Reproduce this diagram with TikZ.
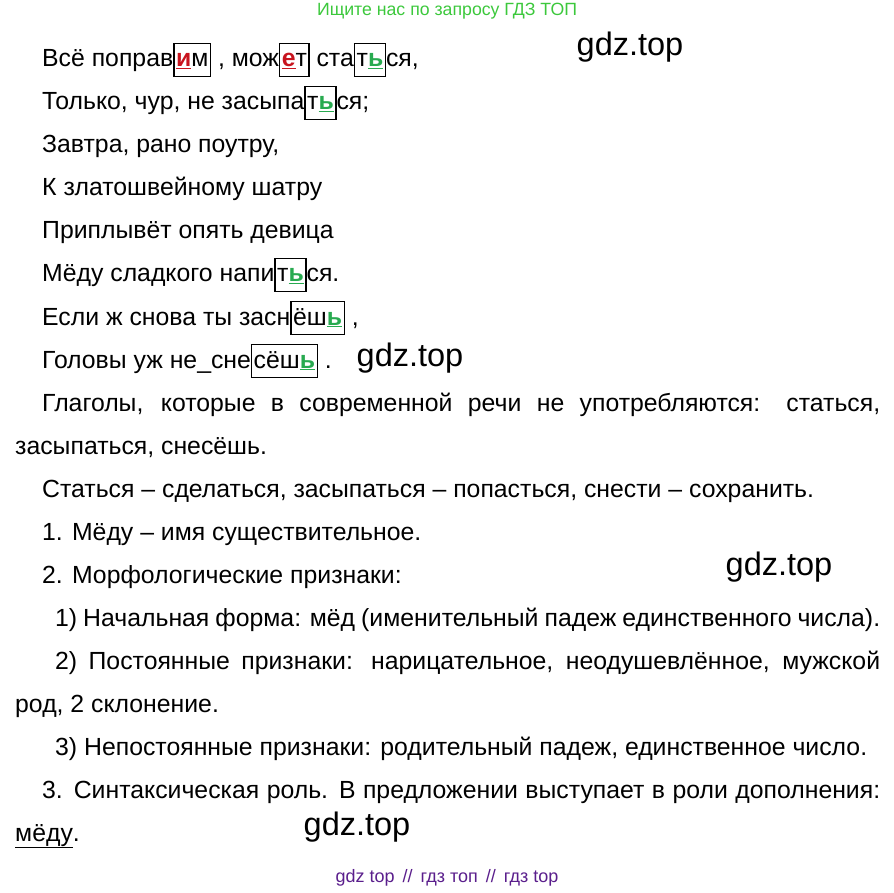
\documentclass[tikz,border=0pt]{standalone}
\usepackage{fontspec}
\setmainfont{Liberation Sans}
\usepackage{xcolor}
\definecolor{markred}{RGB}{200,20,30}
\definecolor{markgreen}{RGB}{40,170,80}
\definecolor{wmgreen}{RGB}{60,200,60}
\definecolor{wmpurple}{RGB}{90,30,140}
\newcommand{\bx}[1]{{\setlength\fboxsep{0pt}\setlength\fboxrule{1.3pt}\fbox{\rule[-9pt]{0pt}{32pt}\hspace{1.5pt}#1\hspace{1.5pt}}}}
\newcommand{\rl}[1]{\textcolor{markred}{\textbf{\underline{#1}}}}
\newcommand{\gl}[1]{\textcolor{markgreen}{\textbf{\underline{#1}}}}
\begin{document}
\begin{tikzpicture}[x=1pt,y=-1pt,
  line/.style={anchor=base west,inner sep=0pt,font=\fontsize{24.8}{28}\selectfont},
  wm/.style={font=\fontsize{32.5}{36}\selectfont}]
  \useasboundingbox (0,0) rectangle (894,893);

  % Watermarks
  \node[text=wmgreen,font=\fontsize{17.7}{20}\selectfont] (top) at (447,11) {Ищите нас по запросу ГДЗ ТОП};
  \node[text=wmpurple,font=\fontsize{18}{20}\selectfont] (bottom) at (447,878) {gdz top \,//\, гдз топ \,//\, гдз top};
  \node[wm] (wmA) at (630,47) {gdz.top};
  \node[wm] (wmB) at (410,358) {gdz.top};
  \node[wm] (wmC) at (779,567) {gdz.top};
  \node[wm] (wmD) at (357,827) {gdz.top};

  % Poem
  \node[line] (l0) at (42,67) {Всё поправ\bx{\rl{и}м} , мож\bx{\rl{е}т} ста\bx{т\gl{ь}}ся,};
  \node[line] (l1) at (42,110) {Только, чур, не засыпа\bx{т\gl{ь}}ся;};
  \node[line] (l2) at (42,153) {Завтра, рано поутру,};
  \node[line] (l3) at (42,196) {К златошвейному шатру};
  \node[line] (l4) at (42,239) {Приплывёт опять девица};
  \node[line] (l5) at (42,282) {Мёду сладкого напи\bx{т\gl{ь}}ся.};
  \node[line] (l6) at (42,325) {Если ж снова ты засн\bx{ёш\gl{ь}} ,};
  \node[line] (l7) at (42,368) {Головы уж не\_сне\bx{сёш\gl{ь}} .};

  % Analysis
  \node[line] (l8) at (42,411) {\makebox[838pt][s]{Глаголы, которые в современной речи не употребляются: статься,}};
  \node[line] (l9) at (15,454) {засыпаться, снесёшь.};
  \node[line] (l10) at (42,497) {Статься – сделаться, засыпаться – попасться, снести – сохранить.};
  \node[line] (l11) at (42,540) {1. Мёду – имя существительное.};
  \node[line] (l12) at (42,583) {2. Морфологические признаки:};
  \node[line] (l13) at (55,626) {\makebox[825pt][s]{1) Начальная форма: мёд (именительный падеж единственного числа).}};
  \node[line] (l14) at (55,669) {\makebox[825pt][s]{2) Постоянные признаки: нарицательное, неодушевлённое, мужской}};
  \node[line] (l15) at (15,712) {род, 2 склонение.};
  \node[line] (l16) at (55,755) {3) Непостоянные признаки: родительный падеж, единственное число.};
  \node[line] (l17) at (42,798) {\makebox[838pt][s]{3. Синтаксическая роль. В предложении выступает в роли дополнения:}};
  \node[line] (l18) at (15,841) {\underline{мёду}.};
\end{tikzpicture}
\end{document}
